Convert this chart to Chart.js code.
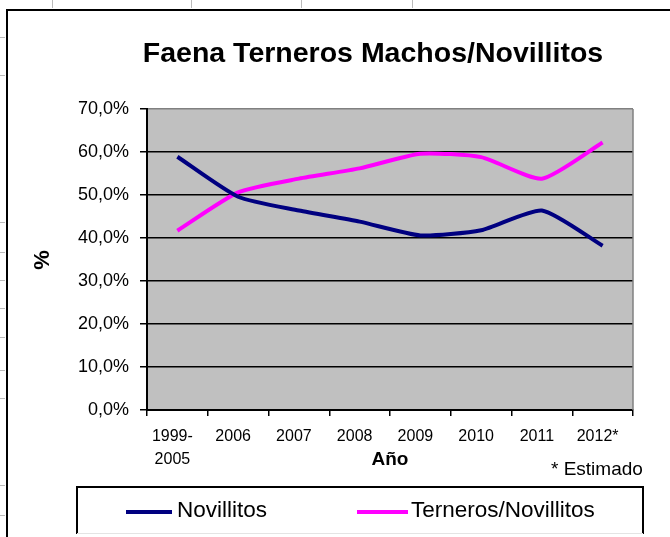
<!DOCTYPE html>
<html><head><meta charset="utf-8">
<script src="https://cdn.jsdelivr.net/npm/chart.js@4"></script>
<style>html,body{margin:0;padding:0;background:#fff;overflow:hidden}#wrap{width:670px;height:537px;position:relative}</style>
</head><body><div id="wrap"><canvas id="c" width="670" height="537"></canvas></div>
<script>
const categories = [["1999-","2005"],"2006","2007","2008","2009","2010","2011","2012*"];
const novillitos = [58.9,49.6,46.4,43.8,40.6,41.8,46.4,38.2];
const ternerosNovillitos = [41.7,50.6,53.8,56.2,59.6,58.8,53.8,62.2];
const yTickLabels = ["0,0%","10,0%","20,0%","30,0%","40,0%","50,0%","60,0%","70,0%"];
const seriesNames = ["Novillitos","Terneros/Novillitos"];
const seriesColors = ["#000080","#FF00FF"];
const titleText = "Faena Terneros Machos/Novillitos";
const xTitle = "Año";
const yTitle = "%";
const noteText = "* Estimado";

const FONT = "'Liberation Sans', Arial, sans-serif";

const decor = {
  id: 'decor',
  beforeDraw(chart) {
    const {ctx, chartArea: a} = chart;
    ctx.save();
    ctx.fillStyle = '#fff';
    ctx.fillRect(0, 0, chart.width, chart.height);
    ctx.fillStyle = '#C0C0C0';
    ctx.fillRect(a.left, a.top, a.right - a.left, a.bottom - a.top);
    ctx.restore();
  },
  afterDraw(chart) {
    const {ctx, chartArea: a} = chart;
    ctx.save();
    // plot area right border
    ctx.strokeStyle = '#808080';
    ctx.lineWidth = 1.5;
    ctx.beginPath();
    ctx.moveTo(a.right, a.top); ctx.lineTo(a.right, a.bottom);
    ctx.stroke();
    // outer frame
    ctx.strokeStyle = '#000';
    ctx.lineWidth = 2;
    ctx.beginPath();
    ctx.moveTo(7, 540); ctx.lineTo(7, 10); ctx.lineTo(672, 10);
    ctx.stroke();
    // spreadsheet marks
    ctx.strokeStyle = '#bbb';
    ctx.lineWidth = 1;
    [52, 191, 301, 412].forEach(x => { ctx.beginPath(); ctx.moveTo(x + 0.5, 0); ctx.lineTo(x + 0.5, 8); ctx.stroke(); });
    [37, 75, 222, 252, 280, 308, 337, 370, 398, 485, 515].forEach(y => { ctx.beginPath(); ctx.moveTo(0, y + 0.5); ctx.lineTo(5, y + 0.5); ctx.stroke(); });
    // title
    ctx.fillStyle = '#000';
    ctx.textAlign = 'center';
    ctx.textBaseline = 'middle';
    ctx.font = 'bold 28.5px ' + FONT;
    ctx.fillText(titleText, 373, 54);
    // axis titles
    ctx.font = 'bold 19px ' + FONT;
    ctx.fillText(xTitle, 390, 460);
    ctx.save();
    ctx.translate(43, 260);
    ctx.rotate(-Math.PI / 2);
    ctx.font = 'bold 22px ' + FONT;
    ctx.fillText(yTitle, 0, 0);
    ctx.restore();
    // note
    ctx.font = '19px ' + FONT;
    ctx.textAlign = 'left';
    ctx.fillText(noteText, 551, 470);
    // legend box
    ctx.strokeStyle = '#000';
    ctx.lineWidth = 2;
    ctx.beginPath();
    ctx.moveTo(77, 534); ctx.lineTo(77, 487); ctx.lineTo(643, 487); ctx.lineTo(643, 534);
    ctx.stroke();
    ctx.strokeStyle = '#e4e4e4';
    ctx.lineWidth = 1;
    ctx.beginPath();
    ctx.moveTo(77, 533.5); ctx.lineTo(643, 533.5);
    ctx.stroke();
    const items = [{x: 126, len: 46, tx: 177}, {x: 357, len: 51, tx: 411}];
    ctx.font = '22.5px ' + FONT;
    items.forEach((it, i) => {
      ctx.strokeStyle = seriesColors[i];
      ctx.lineWidth = 4;
      ctx.beginPath();
      ctx.moveTo(it.x, 512); ctx.lineTo(it.x + it.len, 512);
      ctx.stroke();
      ctx.fillStyle = '#000';
      ctx.fillText(seriesNames[i], it.tx, 511);
    });
    ctx.restore();
  }
};

new Chart(document.getElementById('c'), {
  type: 'line',
  data: {
    labels: categories,
    datasets: [
      {label: seriesNames[0], data: novillitos, borderColor: seriesColors[0], backgroundColor: seriesColors[0], borderWidth: 4, pointRadius: 0, tension: 0.2, fill: false},
      {label: seriesNames[1], data: ternerosNovillitos, borderColor: seriesColors[1], backgroundColor: seriesColors[1], borderWidth: 4, pointRadius: 0, tension: 0.2, fill: false}
    ]
  },
  options: {
    responsive: false,
    animation: false,
    devicePixelRatio: 1,
    layout: {padding: {top: 109, right: 37, left: 0, bottom: 0}},
    plugins: {legend: {display: false}, title: {display: false}, tooltip: {enabled: false}},
    scales: {
      x: {
        offset: true,
        afterFit(s) { s.height = 127; },
        grid: {offset: true, drawOnChartArea: false, drawTicks: true, tickLength: 6, tickColor: '#000', lineWidth: 1.5},
        border: {display: true, color: '#000', width: 2},
        ticks: {color: '#000', font: {family: FONT, size: 16, lineHeight: 1.45}, padding: 9, labelOffset: -5, maxRotation: 0, autoSkip: false}
      },
      y: {
        min: 0, max: 70,
        afterFit(s) { s.width = 147; },
        grid: {
          color: c => (c.tick && c.tick.value === 70) ? '#808080' : '#000',
          tickColor: '#000', lineWidth: 1.5, tickLength: 7, drawTicks: true
        },
        border: {display: true, color: '#000', width: 2},
        ticks: {
          stepSize: 10, color: '#000', padding: 11,
          font: {family: FONT, size: 18},
          callback: (v, i) => yTickLabels[i]
        }
      }
    }
  },
  plugins: [decor]
});
</script>
</body></html>
